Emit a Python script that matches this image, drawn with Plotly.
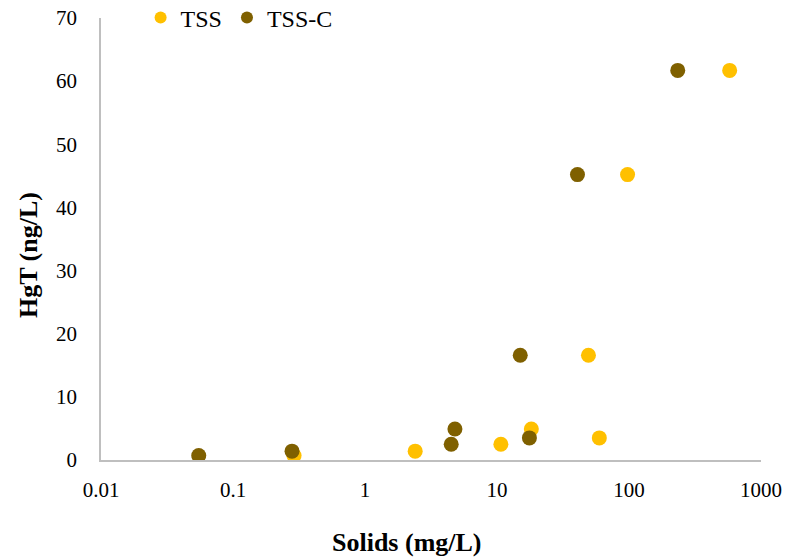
import plotly.graph_objects as go

hgt = [0.7, 1.4, 2.5, 4.9, 3.5, 16.6, 45.2, 61.7]
tss = [0.29, 2.4, 10.7, 18.2, 59.6, 49.3, 97.5, 579]
tss_c = [0.055, 0.28, 4.5, 4.8, 17.6, 15.0, 40.7, 234]

x_tickvals = [0.01, 0.1, 1, 10, 100, 1000]
x_ticktext = ["0.01", "0.1", "1", "10", "100", "1000"]
y_tickvals = [0, 10, 20, 30, 40, 50, 60, 70]

FONT = "Liberation Serif, Times New Roman, serif"

fig = go.Figure()
fig.add_trace(go.Scatter(x=tss, y=hgt, mode="markers", name="TSS",
                         marker=dict(color="#FFC000", size=15)))
fig.add_trace(go.Scatter(x=tss_c, y=hgt, mode="markers", name="TSS-C",
                         marker=dict(color="#7F6000", size=15)))

fig.update_layout(
    width=791, height=559,
    margin=dict(l=101, r=30, t=18, b=99, autoexpand=False),
    paper_bgcolor="white", plot_bgcolor="white",
    font=dict(family=FONT, size=21, color="black"),
    showlegend=True,
    legend=dict(orientation="h", x=0.06, y=1.0, xanchor="left", yanchor="middle",
                font=dict(size=24, family=FONT), itemsizing="constant",
                bgcolor="rgba(0,0,0,0)", tracegroupgap=0, itemwidth=30),
    xaxis=dict(type="log", range=[-2, 3], tickvals=x_tickvals, ticktext=x_ticktext,
               showgrid=False, zeroline=False, showline=True, linecolor="#BFBFBF",
               linewidth=1.5, ticks="", ticklabelstandoff=10,
               tickfont=dict(size=21, family=FONT)),
    yaxis=dict(range=[0, 70], tickvals=y_tickvals, showgrid=False, zeroline=False,
               showline=True, linecolor="#BFBFBF", linewidth=1.5, ticks="",
               ticklabelstandoff=18, tickfont=dict(size=21, family=FONT)),
    annotations=[
        dict(text="<b>Solids (mg/L)</b>", xref="paper", yref="paper",
             x=(407 - 101) / 660, y=-(542 - 460) / 442, xanchor="center", yanchor="middle",
             showarrow=False, font=dict(size=26, family=FONT)),
        dict(text="<b>HgT (ng/L)</b>", xref="paper", yref="paper",
             x=-(101 - 28) / 660, y=(460 - 255) / 442, xanchor="center", yanchor="middle",
             textangle=-90, showarrow=False, font=dict(size=26, family=FONT)),
    ],
)

fig.write_html("out.html")
